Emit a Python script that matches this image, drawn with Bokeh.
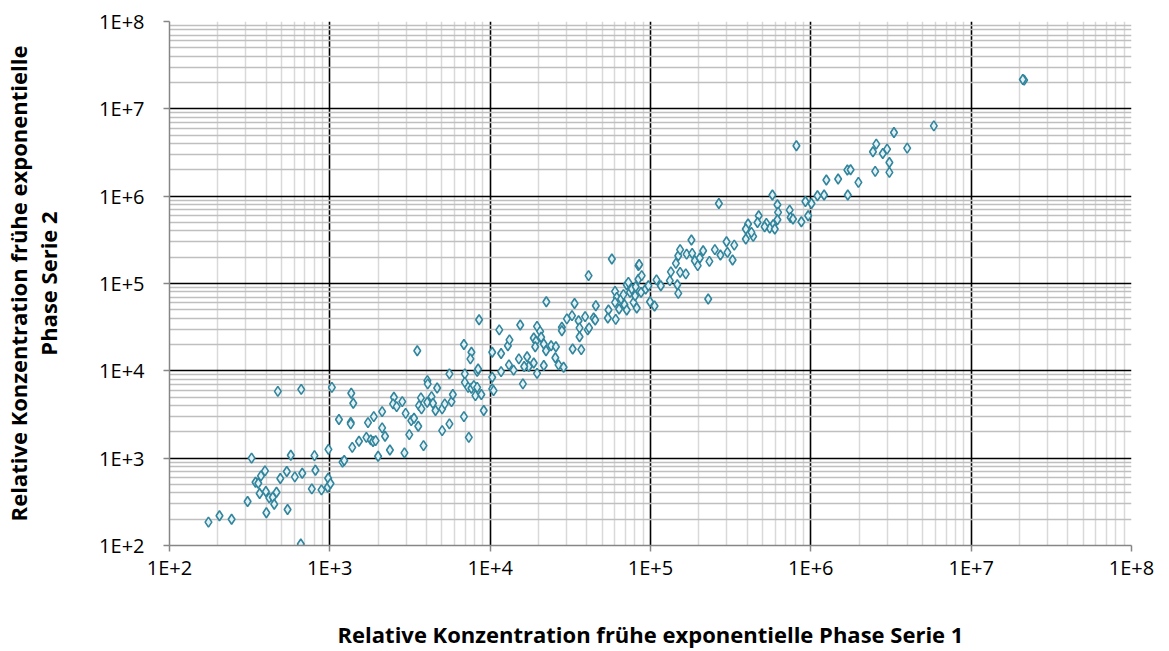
from bokeh.plotting import figure
from bokeh.models import FixedTicker, CustomJSTickFormatter
from bokeh.embed import file_html
from bokeh.resources import INLINE

# Relative concentration, series 1 (x) and series 2 (y)
serie1 = [
    175, 205, 244, 307, 325, 402, 365, 344, 358, 372, 394, 399, 419, 441, 450, 465, 491, 539, 545, 571,
    605, 673, 659, 772, 802, 813, 887, 970, 976, 1010, 980, 1140, 1200, 1230,
    474, 663, 1030, 1360, 1400, 1350, 1350, 1380, 1520, 1690, 1800, 1860, 1930, 1730, 1880, 2120,
    2120, 2210, 2000, 2370, 2920, 2510, 2480, 2610, 2830, 2970, 3130, 3220, 3350, 3560, 3840, 3510,
    4060, 4080, 4670, 5570, 3700, 3600, 3730, 4050, 4310, 4400, 4560, 5020, 5210, 5740, 5850, 5020,
    5570, 6860, 7360, 6950, 6950, 7290, 7640, 7910, 8300, 8090, 8810, 9120, 8300, 8410, 6860, 7640,
    7530, 8530,
    11400, 10300, 11700, 12900, 13200, 13100, 14000, 11700, 10300, 10300, 10500, 15400, 15100, 16000,
    17000, 17400, 16300, 18700, 19600, 21600, 19600, 20500, 18700, 19300, 20800, 19100, 21600, 22300,
    24000, 25700, 25500, 26700, 28700, 28000, 28000, 22400, 30100, 32400, 33600, 32700, 37000, 35600,
    36100, 36100, 39100, 40600, 41400, 44200, 45200, 45600, 41100, 54700, 54200, 60700, 57400, 60100,
    61600, 60100, 63700, 65500, 67800, 68800, 71100, 71100, 72800, 74500, 76400, 78300, 80200, 80900,
    82100, 84100, 84100, 85000, 88100, 87300, 93300, 97000, 99300, 106000, 109000, 116000, 132000,
    134000, 147000, 149000, 153000, 144000, 149000, 153000, 166000, 168000, 180000, 182000, 189000,
    197000, 203000, 213000, 229000, 233000, 252000, 273000, 298000, 302000, 325000, 333000, 393000,
    437000,
    576000, 619000, 625000, 619000, 582000, 554000, 596000, 528000, 515000, 473000, 465000, 406000,
    393000, 426000, 267000, 738000, 748000, 774000, 873000, 925000, 962000, 1010000, 1100000, 1210000,
    1250000, 813000, 1480000, 1690000, 1770000, 1980000, 1700000, 2440000, 2560000, 2810000, 2990000,
    3090000, 3090000, 2520000, 3300000, 3990000, 5850000, 21400000, 21000000,
]
serie2 = [
    185, 219, 200, 319, 1000, 237, 394, 530, 516, 627, 716, 415, 351, 357, 297, 407, 584, 703, 258, 1080,
    611, 672, 104, 445, 1070, 727, 434, 465, 589, 512, 1260, 2770, 900, 940,
    5820, 6140, 6470, 5530, 4250, 2570, 2470, 1330, 1560, 1730, 1620, 1550, 1590, 2550, 2990, 3410,
    2220, 1780, 1050, 1240, 1150, 4980, 4180, 3890, 4440, 3260, 1860, 2690, 2860, 2320, 1390, 17000,
    7720, 7080, 6370, 9220, 4900, 4000, 3670, 4360, 5070, 4250, 3510, 3670, 4180, 4440, 5350, 2070,
    2470, 2990, 1730, 9220, 7380, 6470, 6310, 6780, 6470, 5200, 5350, 3510, 9870, 10500, 20000, 16300,
    13700, 38500,
    29400, 16300, 15800, 19400, 22600, 11700, 10200, 9790, 8430, 6210, 5930, 33500, 13700, 7080,
    14500, 11200, 11200, 12300, 9360, 11500, 32300, 28300, 23800, 21800, 24200, 18900, 20300, 17000,
    19400, 18900, 14100, 11700, 11000, 31500, 28800, 61900, 39300, 42900, 59100, 17800, 17500, 37500,
    31000, 24600, 41700, 29400, 31000, 40300, 38200, 55700, 123000, 49800, 40300, 38800, 191000, 81300,
    69300, 60800, 51100, 66500, 74500, 57100, 49800, 96800, 103000, 79100, 86500, 60800, 72400, 91900,
    52500, 112000, 160000, 165000, 123000, 79100, 86500, 94400, 61900, 55300, 110000, 94400, 108000,
    136000, 96800, 77100, 134000, 170000, 208000, 244000, 129000, 217000, 315000, 221000, 182000,
    160000, 196000, 237000, 66500, 179000, 244000, 212000, 301000, 227000, 186000, 275000, 323000,
    346000,
    1030000, 798000, 652000, 537000, 471000, 432000, 421000, 488000, 447000, 597000, 500000, 480000,
    421000, 385000, 825000, 693000, 570000, 547000, 509000, 869000, 597000, 825000, 1010000, 1030000,
    1530000, 3780000, 1570000, 1990000, 2010000, 1440000, 1030000, 3220000, 3940000, 3080000, 3460000,
    2430000, 1870000, 1920000, 5360000, 3550000, 6380000, 21300000, 21700000,
]

tick_values = [1e2, 1e3, 1e4, 1e5, 1e6, 1e7, 1e8]
tick_labels = ["1E+2", "1E+3", "1E+4", "1E+5", "1E+6", "1E+7", "1E+8"]
minor_values = [k * 10.0 ** e for e in range(2, 8) for k in range(2, 10)]

x_title = "Relative Konzentration frühe exponentielle Phase Serie 1"
y_title = "Relative Konzentration frühe exponentielle\nPhase Serie 2"

FONT = "Open Sans"

p = figure(
    width=1169, height=651,
    x_axis_type="log", y_axis_type="log",
    x_range=(1e2, 1e8), y_range=(1e2, 1e8),
    output_backend="svg", toolbar_location=None,
    min_border_left=167, min_border_right=38, min_border_top=21, min_border_bottom=106,
)
p.outline_line_color = None
p.background_fill_color = "white"
p.border_fill_color = "white"

ticker = FixedTicker(ticks=tick_values, minor_ticks=minor_values)
fmt = CustomJSTickFormatter(args=dict(tvals=tick_values, tlabels=tick_labels), code="""
    let best = 0, bd = Infinity;
    for (let i = 0; i < tvals.length; i++) {
        const d = Math.abs(Math.log10(tvals[i]) - Math.log10(tick));
        if (d < bd) { bd = d; best = i; }
    }
    return tlabels[best];
""")

for ax in (p.xaxis, p.yaxis):
    ax.ticker = ticker
    ax.formatter = fmt
    ax.axis_line_color = "#868686"
    ax.axis_line_width = 1.5
    ax.major_tick_line_color = "#868686"
    ax.major_tick_line_width = 1.5
    ax.major_tick_out = 6
    ax.major_tick_in = 0
    ax.minor_tick_line_color = None
    ax.major_label_text_font = FONT
    ax.major_label_text_font_size = "20px"
    ax.major_label_text_color = "black"
    ax.axis_label_text_font = FONT
    ax.axis_label_text_font_size = "22px"
    ax.axis_label_text_font_style = "bold"
    ax.axis_label_text_color = "black"
    ax.axis_label_text_line_height = 1.0

p.xaxis.axis_label = x_title
p.yaxis.axis_label = y_title
p.xaxis.major_label_standoff = 2
p.xaxis.axis_label_standoff = 35
p.yaxis.major_label_standoff = 19
p.yaxis.axis_label_standoff = 33
p.yaxis.major_label_orientation = "horizontal"

p.xgrid.ticker = ticker
p.ygrid.ticker = ticker
p.xgrid.grid_line_color = "black"
p.ygrid.grid_line_color = "black"
p.xgrid.grid_line_width = 1.6
p.ygrid.grid_line_width = 1.6
p.xgrid.minor_grid_line_color = "#d9d9d9"
p.xgrid.minor_grid_line_width = 1.5
p.ygrid.minor_grid_line_color = "#bfbfbf"
p.ygrid.minor_grid_line_width = 1.5

p.scatter(serie1, serie2, marker="diamond", size=10,
          line_color="#31859c", line_width=1.6, fill_color="#e4f1f4")

open("out.html", "w").write(file_html(p, INLINE))
